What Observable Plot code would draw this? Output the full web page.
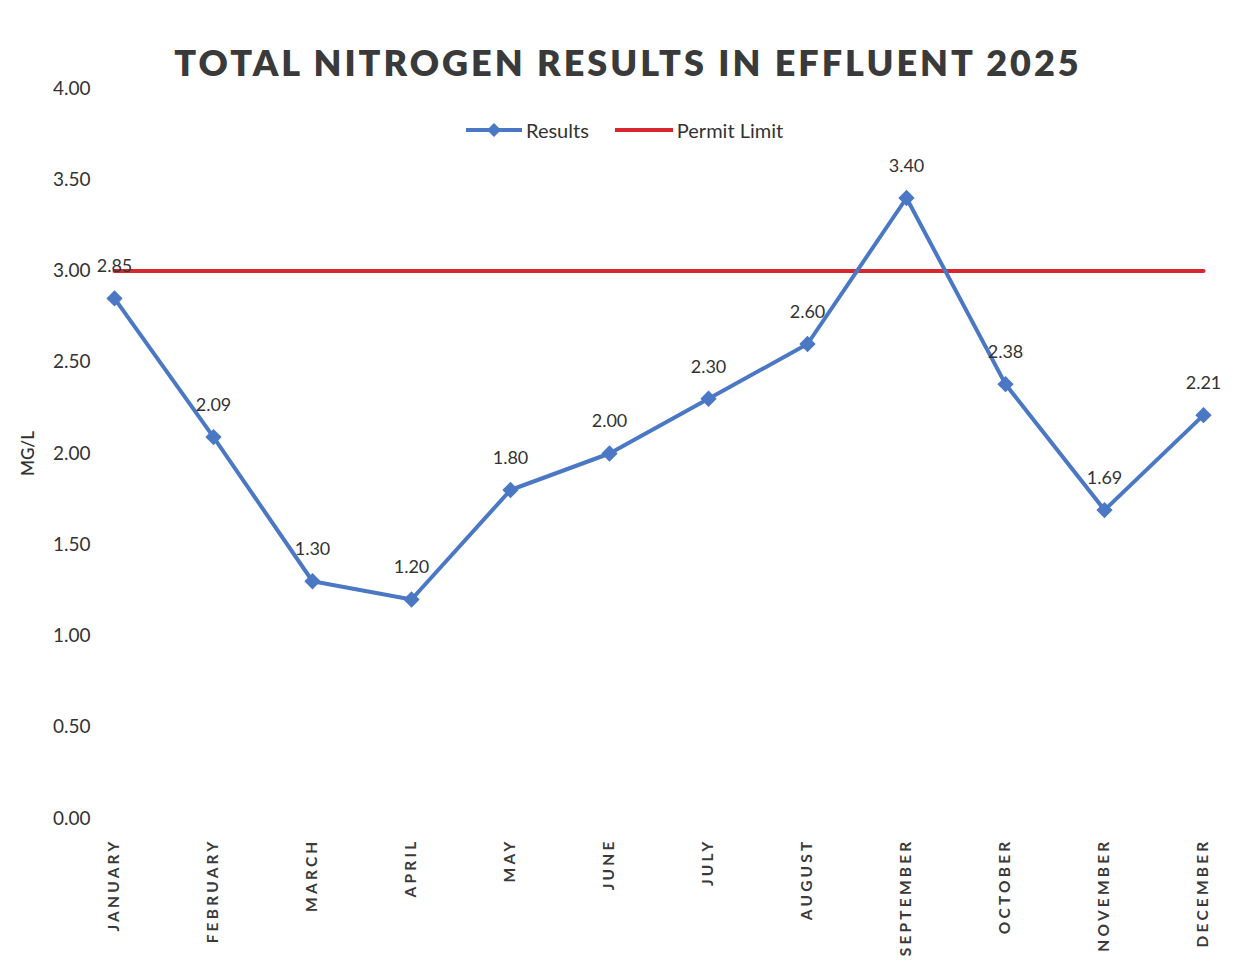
<!DOCTYPE html>
<html>
<head>
<meta charset="utf-8">
<script src="https://cdn.jsdelivr.net/npm/d3@7"></script>
<script src="https://cdn.jsdelivr.net/npm/@observablehq/plot@0.6"></script>
<style>
  html, body { margin: 0; padding: 0; background: #fff; }
  #wrap { position: relative; width: 1239px; height: 974px; font-family: Lato, "Open Sans", sans-serif; }
  #title { position: absolute; left: 0; width: 1256px; top: 40px; text-align: center; font-size: 36px; font-weight: 800; letter-spacing: 3px; color: #3a3a3a; }
  #legend { position: absolute; left: 466px; top: 118px; display: flex; align-items: center; font-size: 20px; color: #333; }
  #legend .item { display: flex; align-items: center; margin-right: 26px; }
  #legend svg { margin-right: 4px; }
  #plot { position: absolute; left: 0; top: 0; }
  #plot g[aria-label="x-axis tick label"] text { letter-spacing: 3.2px; }
</style>
</head>
<body>
<div id="wrap">
  <div id="plot"></div>
  <div id="title">TOTAL NITROGEN RESULTS IN EFFLUENT 2025</div>
  <div id="legend">
    <div class="item"><svg width="56" height="16"><line x1="0" y1="8" x2="56" y2="8" stroke="#4a78c4" stroke-width="4"/><path d="M28,1 L35,8 L28,15 L21,8 Z" fill="#4a78c4"/></svg><span>Results</span></div>
    <div class="item"><svg width="58" height="16"><line x1="0" y1="8" x2="58" y2="8" stroke="#d8262e" stroke-width="4"/></svg><span>Permit Limit</span></div>
  </div>
</div>
<script>
const months = ["JANUARY","FEBRUARY","MARCH","APRIL","MAY","JUNE","JULY","AUGUST","SEPTEMBER","OCTOBER","NOVEMBER","DECEMBER"];
const results = [2.85, 2.09, 1.30, 1.20, 1.80, 2.00, 2.30, 2.60, 3.40, 2.38, 1.69, 2.21];
const permitLimit = [3.00, 3.00, 3.00, 3.00, 3.00, 3.00, 3.00, 3.00, 3.00, 3.00, 3.00, 3.00];
const yTicks = [0, 0.5, 1, 1.5, 2, 2.5, 3, 3.5, 4];

const data = months.map((m, i) => ({month: m, value: results[i], limit: permitLimit[i]}));

const chart = Plot.plot({
  width: 1239,
  height: 974,
  marginLeft: 112,
  marginRight: 34,
  marginTop: 88,
  marginBottom: 156,
  style: {fontFamily: "Lato, 'Open Sans', sans-serif", background: "transparent"},
  x: {type: "point", domain: months, padding: 0},
  y: {domain: [0, 4]},
  marks: [
    Plot.axisY({ticks: yTicks, tickFormat: d => d.toFixed(2), tickSize: 0, tickPadding: 22, fontSize: 19, fill: "#333", label: null}),
    Plot.text(["MG/L"], {frameAnchor: "left", textAnchor: "middle", dx: -84, rotate: -90, fontSize: 17, fill: "#333", fontWeight: 600}),
    Plot.axisX({tickRotate: -90, tickSize: 0, tickPadding: 20, fontSize: 15.5, fontWeight: 700, fill: "#3a3a3a", label: null}),
    Plot.ruleY([0], {x1: months[0], x2: months[1], stroke: "#e6e6e6", strokeWidth: 1}),
    Plot.line(data, {x: "month", y: "limit", stroke: "#d8262e", strokeWidth: 4}),
    Plot.line(data, {x: "month", y: "value", stroke: "#4a78c4", strokeWidth: 4}),
    Plot.dot(data, {x: "month", y: "value", symbol: "square", rotate: 45, r: 6.5, fill: "#4a78c4"}),
    Plot.text(data, {x: "month", y: "value", text: d => d.value.toFixed(2), dy: -32, fontSize: 18, fill: "#333"})
  ]
});
document.getElementById("plot").appendChild(chart);
</script>
</body>
</html>
